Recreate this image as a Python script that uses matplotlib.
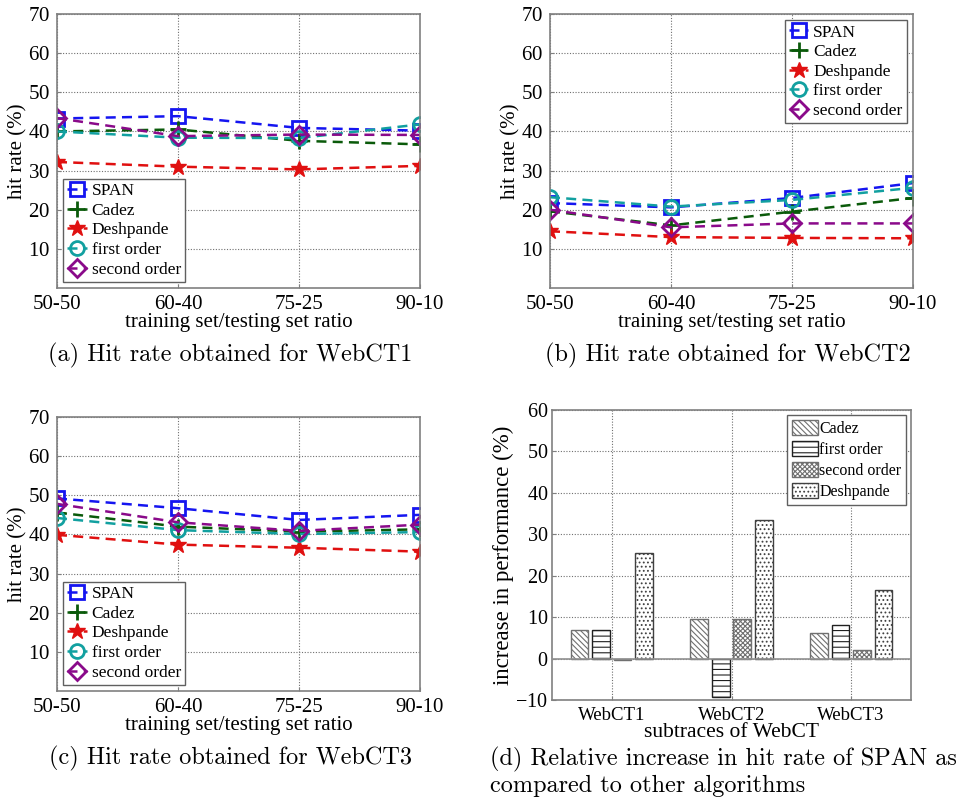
import matplotlib
matplotlib.use("Agg")
import matplotlib.pyplot as plt
import numpy as np

# ---------------- data ----------------
ratios = ["50-50", "60-40", "75-25", "90-10"]
series_names = ["SPAN", "Cadez", "Deshpande", "first order", "second order"]

webct1_span = [43.3, 43.9, 40.9, 40.2]
webct1_cadez = [40.0, 40.5, 37.6, 36.7]
webct1_desh = [32.2, 31.0, 30.3, 31.2]
webct1_first = [40.0, 38.4, 38.3, 41.8]
webct1_second = [43.4, 38.8, 39.2, 39.1]

webct2_span = [21.7, 20.6, 23.0, 26.8]
webct2_cadez = [19.6, 16.0, 19.5, 23.0]
webct2_desh = [14.5, 13.0, 12.8, 12.7]
webct2_first = [23.2, 20.8, 22.5, 25.6]
webct2_second = [20.0, 15.5, 16.5, 16.5]

webct3_span = [49.2, 46.7, 43.7, 45.0]
webct3_cadez = [45.6, 42.0, 40.7, 41.3]
webct3_desh = [39.9, 37.4, 36.6, 35.6]
webct3_first = [44.2, 41.1, 40.1, 40.6]
webct3_second = [47.8, 43.1, 40.9, 42.5]

subtraces = ["WebCT1", "WebCT2", "WebCT3"]
bar_names = ["Cadez", "first order", "second order", "Deshpande"]
inc_cadez = [6.9, 9.5, 6.2]
inc_first = [6.9, -9.3, 8.0]
inc_second = [-0.4, 9.5, 2.1]
inc_desh = [25.6, 33.5, 16.6]

captions = ["(a) Hit rate obtained for WebCT1",
            "(b) Hit rate obtained for WebCT2",
            "(c) Hit rate obtained for WebCT3",
            "(d) Relative increase in hit rate of SPAN as\ncompared to other algorithms"]

# ---------------- style ----------------
W, H = 972, 801
SERIF = ["Liberation Serif", "DejaVu Serif"]
CAP = ["cmr10", "DejaVu Serif"]
plt.rcParams["font.family"] = SERIF
plt.rcParams["axes.formatter.use_mathtext"] = True
plt.rcParams["hatch.linewidth"] = 0.8

fig = plt.figure(figsize=(W / 100, H / 100), dpi=100)

def add_ax(left, right, top, bottom):
    return fig.add_axes([left / W, 1 - bottom / H, (right - left) / W, (bottom - top) / H])

colors = ["#1515f0", "#0a5a0a", "#e01010", "#12a0a0", "#8a0a8a"]
markers = ["s", "+", "*", "o", "D"]
msizes = [9.5, 12, 12, 10, 9]

def style_axes(ax):
    for s in ax.spines.values():
        s.set_color("#808080")
        s.set_linewidth(1.2)
    ax.grid(True, linestyle=(0, (1, 1.5)), color="#707070", linewidth=0.8)
    ax.set_axisbelow(True)
    ax.tick_params(direction="in", length=3, color="#808080", labelsize=15, pad=5)

def line_panel(ax, data, legend_loc):
    x = np.arange(len(ratios))
    handles = []
    for vals, c, m, ms, name in zip(data, colors, markers, msizes, series_names):
        if m == "*":
            h, = ax.plot(x, vals, linestyle="--", color=c, lw=1.8, marker=m, ms=ms,
                         mfc=c, mec=c, mew=1.0, label=name, dashes=(4, 2.5))
        else:
            h, = ax.plot(x, vals, linestyle="--", color=c, lw=1.8, marker=m, ms=ms,
                         mfc="none", mec=c, mew=2.0, label=name, dashes=(4, 2.5))
        handles.append(h)
    ax.set_xlim(0, 3)
    ax.set_ylim(0, 70)
    ax.set_yticks([10, 20, 30, 40, 50, 60, 70])
    ax.set_xticks(x)
    ax.set_xticklabels(ratios)
    style_axes(ax)
    ax.set_xlabel("training set/testing set ratio", fontsize=15, labelpad=-1)
    ax.set_ylabel("hit rate (%)", fontsize=15, labelpad=0.5)
    leg = ax.legend(handles=handles, loc=legend_loc, fontsize=12.5, handlelength=1.1,
                    handletextpad=0.3, labelspacing=0.2, borderaxespad=0.35,
                    borderpad=0.25, fancybox=False, framealpha=1, edgecolor="#606060")
    leg.get_frame().set_linewidth(1.0)

axa = add_ax(57, 420, 14, 288)
line_panel(axa, [webct1_span, webct1_cadez, webct1_desh, webct1_first, webct1_second], "lower left")
axb = add_ax(550, 913, 14, 288)
line_panel(axb, [webct2_span, webct2_cadez, webct2_desh, webct2_first, webct2_second], "upper right")
axc = add_ax(57, 420, 417, 691)
line_panel(axc, [webct3_span, webct3_cadez, webct3_desh, webct3_first, webct3_second], "lower left")

# ---------------- bar panel ----------------
axd = add_ax(552, 911, 410, 700)
xb = np.arange(1, len(subtraces) + 1)
pitch = 0.18
bw = 0.147
bar_data = [inc_cadez, inc_first, inc_second, inc_desh]
hatches = ["\\\\\\\\\\\\", "---", "xxxxxxx", "...."]
edges = ["#707070", "#202020", "#707070", "#404040"]
bar_handles = []
for i, (vals, hch, ec, name) in enumerate(zip(bar_data, hatches, edges, bar_names)):
    b = axd.bar(xb + (i - 1.5) * pitch, vals, width=bw, facecolor="white",
                edgecolor=ec, hatch=hch, linewidth=1.0, label=name, zorder=3)
    bar_handles.append(b)
axd.axhline(0, color="#909090", lw=1.2, zorder=4)
axd.set_xlim(0.5, 3.5)
axd.set_ylim(-10, 60)
axd.set_yticks(np.arange(-10, 61, 10))
axd.set_xticks(xb)
axd.set_xticklabels(subtraces)
style_axes(axd)
axd.tick_params(axis="x", labelsize=13.5, pad=5)
axd.tick_params(axis="y", labelsize=14.5, pad=3)
axd.set_xlabel("subtraces of WebCT", fontsize=15.5, labelpad=-1)
axd.set_ylabel("increase in performance (%)", fontsize=16.5, labelpad=0.5)
legd = axd.legend(handles=bar_handles, loc="upper right", fontsize=11.5, handlelength=1.6,
                  handleheight=1.1, handletextpad=0.1, labelspacing=0.25, borderaxespad=0.3,
                  borderpad=0.3, fancybox=False, framealpha=1, edgecolor="#606060")
legd.get_frame().set_linewidth(1.0)

# ---------------- captions ----------------
fig.text(230 / W, 1 - 355 / H, captions[0], fontsize=17.5, family=CAP, ha="center", va="center")
fig.text(728 / W, 1 - 355 / H, captions[1], fontsize=17.5, family=CAP, ha="center", va="center")
fig.text(230 / W, 1 - 758 / H, captions[2], fontsize=17.5, family=CAP, ha="center", va="center")
fig.text(490 / W, 1 - 772 / H, captions[3], fontsize=17.5, family=CAP, ha="left", va="center",
         linespacing=1.15)

fig.savefig("out.png", dpi=100)
